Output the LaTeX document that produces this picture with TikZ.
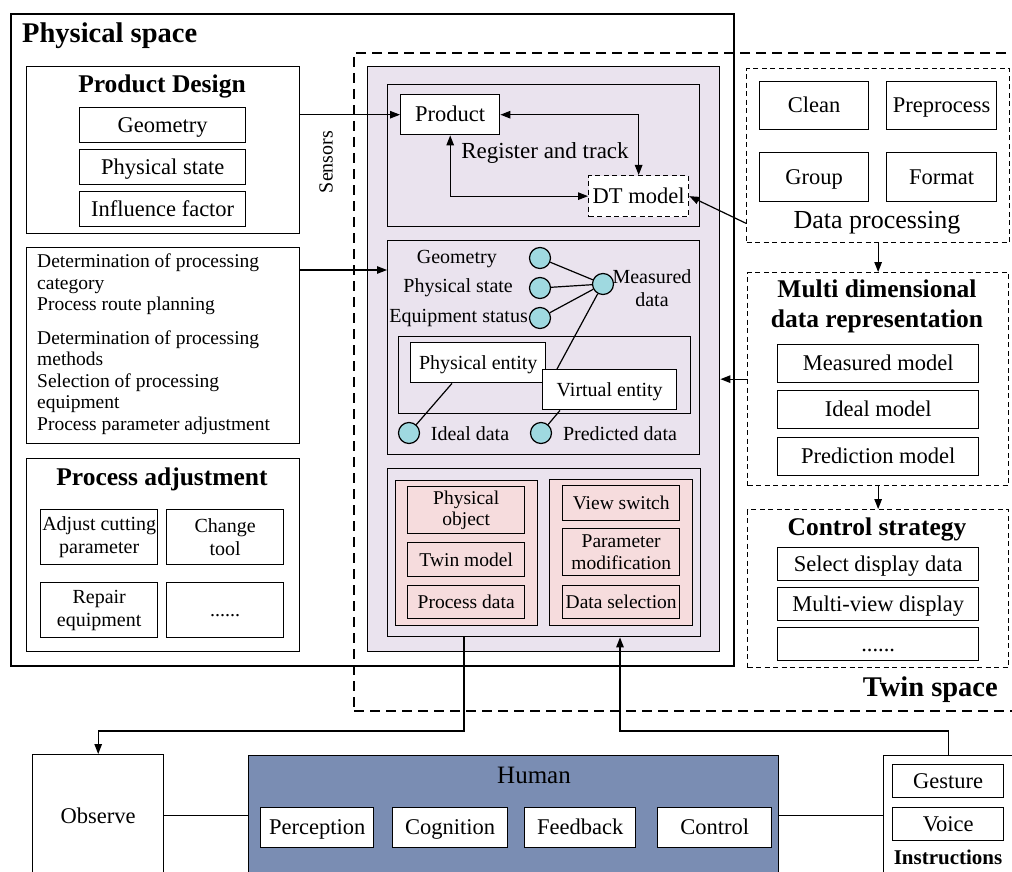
\documentclass[tikz,border=0pt]{standalone}
\usepackage{fontspec}
\setmainfont{Liberation Serif}
\usetikzlibrary{arrows.meta}
\definecolor{lavf}{HTML}{EAE3EE}
\definecolor{pinkf}{HTML}{F6DCDD}
\definecolor{cyanf}{HTML}{9FD9E0}
\definecolor{humanf}{HTML}{7A8DB3}
\newcommand{\bx}[7]{\node[#1, anchor=north west, minimum width={(#5-#3)*1pt}, minimum height={(#6-#4)*1pt}] (#2) at (#3,#4) {#7};}
\begin{document}
\begin{tikzpicture}[x=1pt,y=-1pt,
  every node/.style={font=\fontsize{22.5}{25}\selectfont},
  bx/.style={draw, line width=1.4pt, inner sep=1pt, align=center},
  one/.style={text height=14pt, text depth=0pt},
  ones/.style={text height=13pt, text depth=0pt},
  dbx/.style={draw, line width=1.3pt, dash pattern=on 5pt off 3.5pt, inner sep=1pt, align=center},
  sm/.style={font=\fontsize{20}{23}\selectfont},
  pk/.style={bx, fill=pinkf, font=\fontsize{19.5}{21.5}\selectfont},
  arr/.style={line width=1.2pt, -{Triangle[length=10pt,width=7.5pt]}},
  arrb/.style={line width=1.2pt, {Triangle[length=10pt,width=7.5pt]}-{Triangle[length=10pt,width=7.5pt]}},
  ln/.style={line width=1.2pt},
  dot/.style={circle, draw, line width=1.2pt, fill=cyanf, minimum size=21pt, inner sep=0pt},
  ttl/.style={font=\fontsize{25.5}{30}\selectfont\bfseries, inner sep=0pt, align=center},
  lbl/.style={inner sep=0pt, align=center}]
\useasboundingbox (0,0) rectangle (1012,872);
\fill[white] (0,0) rectangle (1012,872);

% containers
\bx{draw, line width=2pt, dash pattern=on 10pt off 6pt}{twin}{353}{52}{1030}{710}{}
\bx{draw, line width=2.4pt}{phys}{10}{13}{733}{665}{}
\node[ttl, font=\fontsize{28.5}{31}\selectfont\bfseries, anchor=west] (physt) at (22,36) {Physical space};
\node[ttl, font=\fontsize{28.5}{31}\selectfont\bfseries, anchor=east] (twint) at (998,690) {Twin space};

% product design
\bx{bx}{pd}{26}{66}{299}{233}{}
\node[ttl] (pdt) at (162,86) {Product Design};
\bx{bx,one}{pdg}{79}{107}{245}{142}{Geometry}
\bx{bx,one}{pdp}{79}{149}{245}{184}{Physical state}
\bx{bx,one}{pdi}{79}{191}{245}{226}{Influence factor}

% list
\bx{bx}{list}{26}{247}{299}{443}{}
\node[inner sep=0pt, align=left, anchor=north west, font=\fontsize{19.5}{21.5}\selectfont] (listt) at (37,254)
 {Determination of processing\\category\\Process route planning\\[12pt]Determination of processing\\methods\\Selection of processing\\equipment\\Process parameter adjustment};

% process adjustment
\bx{bx}{pa}{26}{458}{299}{651}{}
\node[ttl] (pat) at (162,479) {Process adjustment};
\bx{bx,sm}{pa1}{40}{509}{157}{564}{Adjust cutting\\parameter}
\bx{bx,sm}{pa2}{166}{509}{283}{564}{Change\\tool}
\bx{bx,sm}{pa3}{40}{582}{157}{637}{Repair\\equipment}
\bx{bx,sm,ones}{pa4}{166}{582}{283}{637}{......}

\node[lbl, rotate=90, font=\fontsize{20}{22}\selectfont] (sens) at (326,162) {Sensors};

% lavender panel
\bx{bx, fill=lavf}{lav}{367}{66}{719}{651}{}
\bx{bx}{box1}{387}{84}{699}{226}{}
\bx{bx, fill=white, one}{product}{400}{94}{499}{134}{Product}
\bx{dbx, fill=white, one}{dt}{588}{175}{688}{216}{DT model}
\node[lbl, font=\fontsize{23}{25}\selectfont] (reg) at (545,153) {Register and track};

\bx{bx}{box2}{387}{240}{699}{454}{}
\bx{bx}{sub}{398}{336}{690}{413}{}
\bx{bx, fill=white, sm, ones}{pe}{410}{342}{545}{382}{Physical entity}
\bx{bx, fill=white, sm, ones}{ve}{542}{369}{676}{409}{Virtual entity}
\node[dot] (cg) at (540,258) {};
\node[dot] (cp) at (540,288) {};
\node[dot] (ce) at (540,318) {};
\node[dot] (cm) at (603,284) {};
\node[dot] (ci) at (409,433) {};
\node[dot] (cpr) at (541,433) {};
\node[lbl, sm, anchor=east] (lg) at (497,259) {Geometry};
\node[lbl, sm, anchor=east] (lp) at (513,288) {Physical state};
\node[lbl, sm, anchor=east] (le) at (528,318) {Equipment status};
\node[lbl, sm] (lm) at (652,288) {Measured\\data};
\node[lbl, sm] (li) at (470,434) {Ideal data};
\node[lbl, sm] (lpr) at (620,434) {Predicted data};
\draw[ln] (cg) -- (cm);
\draw[ln] (cp) -- (cm);
\draw[ln] (ce) -- (cm);
\draw[ln] (cm) -- ([xshift=15pt]ve.north west);
\draw[ln] ([xshift=42pt]pe.south west) -- (ci);
\draw[ln] ([xshift=18pt]ve.south west) -- (cpr);

\bx{bx}{box3}{387}{468}{700}{636}{}
\bx{bx, fill=pinkf}{pk1}{395}{480}{537}{625}{}
\bx{pk}{po}{407}{486}{524}{533}{Physical\\object}
\bx{pk,ones}{tm}{407}{542}{524}{576}{Twin model}
\bx{pk,ones}{pdat}{407}{585}{524}{618}{Process data}
\bx{bx, fill=pinkf}{pk2}{549}{479}{692}{625}{}
\bx{pk,ones}{vs}{562}{485}{679}{520}{View switch}
\bx{pk}{pmod}{562}{528}{679}{575}{Parameter\\modification}
\bx{pk,ones}{dsel}{562}{585}{679}{618}{Data selection}

% right column
\bx{dbx}{dp}{746}{68}{1009}{242}{}
\bx{bx,one}{clean}{759}{81}{868}{129}{Clean}
\bx{bx,one}{prep}{886}{81}{996}{129}{Preprocess}
\bx{bx,one}{group}{759}{152}{868}{201}{Group}
\bx{bx,one}{format}{886}{152}{996}{201}{Format}
\node[lbl, font=\fontsize{26}{29}\selectfont] (dpt) at (877,223) {Data processing};

\bx{dbx}{md}{747}{272}{1008}{485}{}
\node[ttl] (mdt) at (877,306) {Multi dimensional\\data representation};
\bx{bx,one}{mm}{777}{344}{978}{382}{Measured model}
\bx{bx,one}{im}{777}{390}{978}{428}{Ideal model}
\bx{bx,one}{pmo}{777}{437}{978}{475}{Prediction model}

\bx{dbx}{cs}{747}{509}{1008}{667}{}
\node[ttl] (cst) at (877,529) {Control strategy};
\bx{bx,one}{sd}{777}{547}{978}{580}{Select display data}
\bx{bx,one}{mv}{777}{587}{978}{620}{Multi-view display}
\bx{bx,one}{dd}{777}{627}{978}{660}{......}

% bottom
\bx{bx}{obs}{32}{754}{163}{876}{Observe}
\bx{bx, fill=humanf}{hum}{248}{755}{778}{875}{}
\node[lbl, font=\fontsize{25}{28}\selectfont] (humt) at (534,775) {Human};
\bx{bx, fill=white, one}{perc}{260}{807}{373}{847}{Perception}
\bx{bx, fill=white, one}{cog}{392}{807}{507}{847}{Cognition}
\bx{bx, fill=white, one}{fb}{524}{807}{635}{847}{Feedback}
\bx{bx, fill=white, one}{ctl}{657}{807}{771}{847}{Control}
\bx{bx}{ins}{883}{755}{1013}{875}{}
\bx{bx,one}{ges}{892}{764}{1003}{797}{Gesture}
\bx{bx,one}{voi}{892}{807}{1003}{840}{Voice}
\node[lbl, font=\fontsize{21}{23}\selectfont\bfseries] (inst) at (948,857) {Instructions};

% connectors
\draw[arr] (pd.east |- product.west) -- (product.west);
\draw[arrb] (product.east) -| (dt.north);
\draw[arrb] (product.south) |- (dt.west);
\draw[arr] ([yshift=20pt]dp.south west) -- (dt.east);
\draw[arr] (dp.south) -- (md.north);
\draw[arr] (md.south) -- (cs.north);
\draw[arr] (md.west) -- (md.west -| lav.east);
\draw[arr] ([yshift=-23pt]list.north east) -- ([yshift=-23pt]list.north east -| box2.west);
\coordinate (b1) at (464,731);
\coordinate (b2) at (620,731);
\draw[arr] (box3.south -| b1) -- (b1) -| (obs.north);
\draw[arr] (ins.north) |- (b2) -- (b2 |- box3.south);
\draw[ln] (obs.east) -- (hum.west);
\draw[ln] (hum.east) -- (ins.west);
\end{tikzpicture}
\end{document}
